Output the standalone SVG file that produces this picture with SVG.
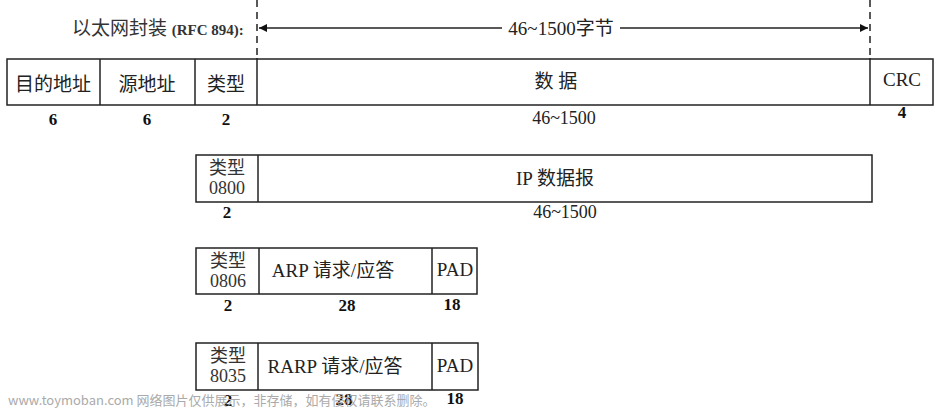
<svg xmlns="http://www.w3.org/2000/svg" width="938" height="411" viewBox="0 0 938 411">
<defs>
<marker id="ah" viewBox="0 0 10 10" refX="10" refY="5" markerWidth="10" markerHeight="8" orient="auto-start-reverse" markerUnits="userSpaceOnUse">
<path d="M0,0 L10,5 L0,10 z" fill="#111"/>
</marker>
<style>
.box{fill:#fff;stroke:#222;stroke-width:1.5}
.ln{stroke:#222;stroke-width:1.5;fill:none}
.dash{stroke:#222;stroke-width:1.5;stroke-dasharray:7,5;fill:none}
.t{font-family:"Liberation Serif","Noto Sans CJK SC",serif;font-size:19px;fill:#222;text-anchor:middle}
.c{font-family:"Liberation Serif","Noto Sans CJK SC",serif;font-size:18px;fill:#333;text-anchor:middle}
.n{font-family:"Liberation Serif",serif;font-size:17px;font-weight:bold;fill:#111;text-anchor:middle}
.s{font-family:"Liberation Serif","Noto Sans CJK SC",serif;font-size:18px;fill:#222;text-anchor:middle}
.w{font-family:"Noto Sans CJK SC",sans-serif;font-size:13px;fill:#aaa}
</style>
</defs>
<rect width="938" height="411" fill="#fff"/>
<g id="connectors">
<line class="dash" x1="257" y1="0" x2="257" y2="58"/>
<line class="dash" x1="870" y1="0" x2="870" y2="58"/>
<line class="ln" x1="259" y1="28" x2="502" y2="28" marker-start="url(#ah)"/>
<line class="ln" x1="620" y1="28" x2="868" y2="28" marker-end="url(#ah)"/>
</g>
<g id="header">
<text x="72" y="35" style="font-family:'Liberation Serif','Noto Sans CJK SC',serif;font-size:19px;fill:#333">以太网封装 <tspan style="font-size:15px;font-weight:bold">(RFC 894):</tspan></text>
<text class="t" x="561" y="35">46~1500字节</text>
</g>
<g id="ethernet-frame">
<rect class="box" x="7" y="59" width="926" height="46"/>
<line class="ln" x1="100" y1="59" x2="100" y2="105"/>
<line class="ln" x1="195" y1="59" x2="195" y2="105"/>
<line class="ln" x1="257" y1="58" x2="257" y2="105"/>
<line class="ln" x1="870" y1="58" x2="870" y2="105"/>
<text class="t" x="53" y="91">目的地址</text>
<text class="t" x="147" y="91">源地址</text>
<text class="t" x="226" y="91">类型</text>
<text class="t" x="556" y="88">数 据</text>
<text class="t" x="902" y="86">CRC</text>
<text class="n" x="53" y="125">6</text>
<text class="n" x="147" y="125">6</text>
<text class="n" x="226" y="125">2</text>
<text class="s" x="564" y="124">46~1500</text>
<text class="n" x="902" y="118">4</text>
</g>
<g id="ip-frame">
<rect class="box" x="196" y="155" width="676" height="47"/>
<line class="ln" x1="258" y1="155" x2="258" y2="202"/>
<text class="c" x="227" y="174">类型</text>
<text class="c" x="227" y="194">0800</text>
<text class="t" x="555" y="185">IP 数据报</text>
<text class="n" x="227" y="218">2</text>
<text class="s" x="565" y="218">46~1500</text>
</g>
<g id="arp-frame">
<rect class="box" x="196" y="248" width="281" height="46"/>
<line class="ln" x1="259" y1="248" x2="259" y2="294"/>
<line class="ln" x1="432" y1="248" x2="432" y2="294"/>
<text class="c" x="228" y="267">类型</text>
<text class="c" x="228" y="287">0806</text>
<text class="t" x="333" y="277">ARP 请求/应答</text>
<text class="t" x="455" y="276">PAD</text>
<text class="n" x="228" y="311">2</text>
<text class="n" x="347" y="311">28</text>
<text class="n" x="452" y="310">18</text>
</g>
<g id="rarp-frame">
<rect class="box" x="196" y="343" width="282" height="47"/>
<line class="ln" x1="258" y1="343" x2="258" y2="390"/>
<line class="ln" x1="432" y1="343" x2="432" y2="390"/>
<text class="c" x="228" y="362">类型</text>
<text class="c" x="228" y="382">8035</text>
<text class="t" x="335" y="373">RARP 请求/应答</text>
<text class="t" x="455" y="372">PAD</text>
<text class="n" x="228" y="406">2</text>
<text class="n" x="344" y="405">28</text>
<text class="n" x="455" y="404">18</text>
</g>
<g id="watermark">
<text class="w" x="8" y="405">www.toymoban.com 网络图片仅供展示，非存储，如有侵权请联系删除。</text>
</g>
</svg>
